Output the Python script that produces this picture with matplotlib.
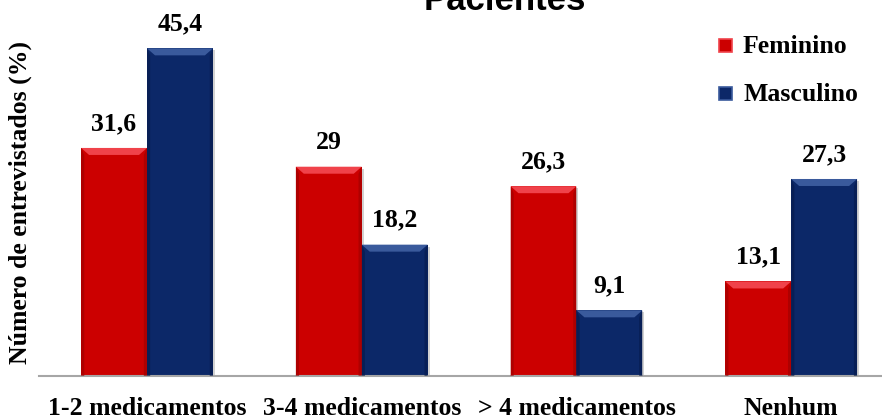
import matplotlib
matplotlib.use("Agg")
import matplotlib.pyplot as plt
from matplotlib.patches import Polygon, Rectangle
import numpy as np

categories = ["1-2 medicamentos", "3-4 medicamentos", "> 4 medicamentos", "Nenhum"]
feminino = [31.6, 29, 26.3, 13.1]
masculino = [45.4, 18.2, 9.1, 27.3]
value_labels_f = ["31,6", "29", "26,3", "13,1"]
value_labels_m = ["45,4", "18,2", "9,1", "27,3"]
series_names = ["Feminino", "Masculino"]

W, H = 882, 419
fig = plt.figure(figsize=(W / 100, H / 100), dpi=100)
fig.patch.set_facecolor("white")

ax_left, ax_right, ax_base = 39, 882, 376
ax = fig.add_axes([ax_left / W, (H - ax_base) / H, (ax_right - ax_left) / W, ax_base / H])
xlim = (-0.503, 3.423)
ylim = (0, 52.1)
ax.set_xlim(*xlim)
ax.set_ylim(*ylim)

# pixel -> data scale factors for bevel geometry
px_x = (xlim[1] - xlim[0]) / (ax_right - ax_left)
px_y = (ylim[1] - ylim[0]) / ax_base

serif = ["Liberation Serif", "DejaVu Serif"]
red_face, red_top, red_side = "#CC0000", "#F0424A", "#9A0000"
blue_face, blue_top, blue_side = "#0C2868", "#3A5A9C", "#061A4A"

width = 0.307
x = np.arange(len(categories))
FS = 18.5


def bevel_bar(xc, h, face, top, side):
    x0, x1 = xc - width / 2, xc + width / 2
    bx, by = 8 * px_x, 7 * px_y
    # soft shadow
    ax.add_patch(Rectangle((x0 + 2 * px_x, 0), x1 - x0, h - 2 * px_y,
                           facecolor="#808080", alpha=0.35, lw=0, zorder=1))
    ax.add_patch(Rectangle((x0, 0), x1 - x0, h, facecolor=face, lw=0, zorder=2))
    ax.add_patch(Polygon([(x0, h), (x1, h), (x1 - bx, h - by), (x0 + bx, h - by)],
                         closed=True, facecolor=top, lw=0, zorder=3))
    ax.add_patch(Polygon([(x0, 0), (x0, h), (x0 + bx * 0.4, h - by), (x0 + bx * 0.4, 0)],
                         closed=True, facecolor=side, lw=0, zorder=3, alpha=0.6))
    ax.add_patch(Polygon([(x1, 0), (x1, h), (x1 - bx * 0.4, h - by), (x1 - bx * 0.4, 0)],
                         closed=True, facecolor=side, lw=0, zorder=3, alpha=0.6))


for i in range(len(categories)):
    xf = x[i] - width / 2
    xm = x[i] + width / 2
    bevel_bar(xf, feminino[i], red_face, red_top, red_side)
    bevel_bar(xm, masculino[i], blue_face, blue_top, blue_side)
    ax.annotate(value_labels_f[i], (xf, feminino[i]), xytext=(0, 13),
                textcoords="offset points", ha="center", va="baseline",
                fontsize=FS, fontweight="bold", family=serif, color="black")
    ax.annotate(value_labels_m[i], (xm, masculino[i]), xytext=(0, 13),
                textcoords="offset points", ha="center", va="baseline",
                fontsize=FS, fontweight="bold", family=serif, color="black")

for s in ["top", "right", "left"]:
    ax.spines[s].set_visible(False)
ax.spines["bottom"].set_color("#A6A6A6")
ax.spines["bottom"].set_linewidth(1.5)
ax.set_yticks([])
ax.set_xticks(x)
ax.set_xticklabels(categories, fontsize=FS, fontweight="bold", family=serif)
ax.tick_params(axis="x", length=0, pad=15)

fig.text(20 / W, 1 - 203 / H, "Número de entrevistados (%)", rotation=90,
         ha="center", va="center", fontsize=FS, fontweight="bold", family=serif)

fig.text(505 / W, 1 - 10 / H, "Pacientes", ha="center", va="baseline",
         fontsize=25, fontweight="bold", family=["Liberation Sans", "DejaVu Sans"])

# legend
for j, (name, face, top) in enumerate(zip(series_names, [red_face, blue_face], [red_top, blue_top])):
    yc = 46 + j * 48
    fig.patches.append(Rectangle((719 / W, 1 - (yc + 6) / H), 13 / W, 13 / H,
                                 transform=fig.transFigure, facecolor=face,
                                 edgecolor=top, lw=1.2))
    fig.text(743 / W, 1 - (yc + 7) / H, name, ha="left", va="baseline",
             fontsize=FS, fontweight="bold", family=serif)

fig.savefig("out.png", dpi=100, facecolor="white")
